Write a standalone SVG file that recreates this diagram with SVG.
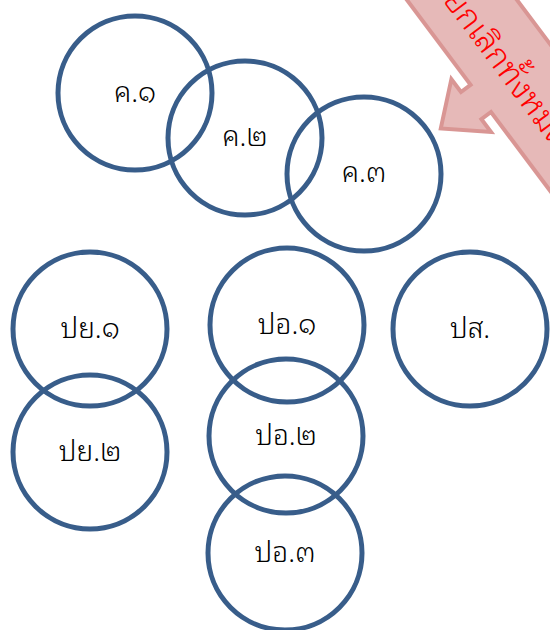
<svg xmlns="http://www.w3.org/2000/svg" width="550" height="630" viewBox="0 0 550 630">
<style>
.c{fill:none;stroke:#385D8A;stroke-width:5}
.t{font-family:"Noto Sans Thai Looped","Noto Sans Thai","Noto Sans",sans-serif;font-size:28px;font-weight:300;fill:#000;text-anchor:middle;dominant-baseline:central}
.callout{fill:#E6B9B8;stroke:#D99694;stroke-width:4;stroke-linejoin:miter}
.ct{font-family:"Noto Sans Thai Looped","Noto Sans Thai","Noto Sans",sans-serif;font-size:33px;font-weight:300;fill:#FF0000}
</style>
<rect width="550" height="630" fill="#fff"/>
<g id="connectors"></g>
<g id="n-k1"><circle class="c" cx="135" cy="93" r="77"/><text class="t" x="135" y="89">ค.๑</text></g>
<g id="n-k2"><circle class="c" cx="245" cy="138" r="77"/><text class="t" x="245" y="133">ค.๒</text></g>
<g id="n-k3"><circle class="c" cx="364" cy="174" r="77"/><text class="t" x="364" y="169">ค.๓</text></g>
<g id="n-py1"><circle class="c" cx="90" cy="329" r="77"/><text class="t" x="90" y="325">ปย.๑</text></g>
<g id="n-py2"><circle class="c" cx="90" cy="452" r="77"/><text class="t" x="90" y="448">ปย.๒</text></g>
<g id="n-po1"><circle class="c" cx="287" cy="325" r="77"/><text class="t" x="287" y="321">ปอ.๑</text></g>
<g id="n-po2"><circle class="c" cx="286" cy="436" r="77"/><text class="t" x="286" y="432">ปอ.๒</text></g>
<g id="n-po3"><circle class="c" cx="285" cy="553" r="77"/><text class="t" x="285" y="549">ปอ.๓</text></g>
<g id="n-ps"><circle class="c" cx="470" cy="329" r="77"/><text class="t" x="470" y="325">ปส.</text></g>
<g id="n-callout" transform="translate(407,0) rotate(53.13)">
<path class="callout" d="M-120,-88 L420,-88 L420,0 L140,0 L140,12 L156,12 L123,50 L90,12 L106,12 L106,0 L-120,0 Z"/>
<text class="ct" x="22" y="-28">ยกเลิกทั้งหมด</text>
</g>
</svg>
